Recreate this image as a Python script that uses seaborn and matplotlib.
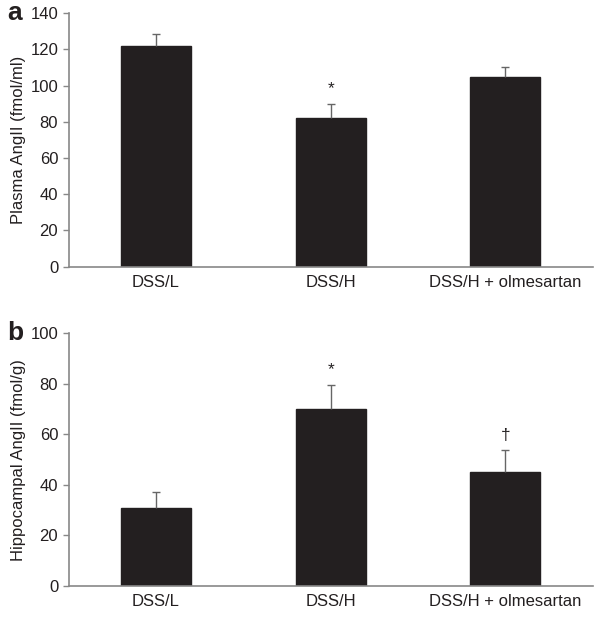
import matplotlib
matplotlib.use("Agg")
import matplotlib.pyplot as plt
import seaborn as sns
import pandas as pd

groups = ["DSS/L", "DSS/H", "DSS/H + olmesartan"]

plasma_mean = [122, 82, 105]
plasma_err = [6.5, 8, 5.5]
plasma_marks = ["", "*", ""]

hippo_mean = [31, 70, 45]
hippo_err = [6, 9.6, 8.7]
hippo_marks = ["", "*", "\u2020"]

sns.set_style("white")
plt.rcParams["font.family"] = ["Liberation Sans", "DejaVu Sans"]

fig = plt.figure(figsize=(6.02, 6.18), dpi=100)
ax_a = fig.add_axes([0.114, 0.5685, 0.8705, 0.41])
ax_b = fig.add_axes([0.114, 0.0518, 0.8705, 0.409])

panels = [
    (ax_a, plasma_mean, plasma_err, plasma_marks, "Plasma AngII (fmol/ml)", 140, 20, "a"),
    (ax_b, hippo_mean, hippo_err, hippo_marks, "Hippocampal AngII (fmol/g)", 100, 20, "b"),
]

for ax, means, errs, marks, ylabel, ymax, step, letter in panels:
    df = pd.DataFrame({"group": groups, "value": means})
    sns.barplot(data=df, x="group", y="value", color="#231f20", width=0.4,
                errorbar=None, ax=ax, saturation=1, edgecolor="#231f20")
    pos = list(range(len(groups)))
    eb = ax.errorbar(pos, means, yerr=[[0] * len(errs), errs], fmt="none",
                     ecolor="#666666", elinewidth=1, capsize=3, capthick=1)
    # only the upper cap
    eb[1][0].set_visible(False)
    for p, m, e, s in zip(pos, means, errs, marks):
        if s:
            off = ymax * 0.03
            ax.text(p, m + e + off, s, ha="center", va="bottom", fontsize=12.5,
                    color="#231f20")
    ax.set_xlim(-0.5, 2.5)
    ax.set_ylim(0, ymax)
    ax.set_yticks(range(0, ymax + 1, step))
    ax.set_xlabel("")
    ax.set_ylabel(ylabel, fontsize=12, color="#231f20", labelpad=3)
    ax.tick_params(axis="y", length=4, width=1, color="#888888", labelsize=12,
                   labelcolor="#231f20", left=True, direction="out")
    ax.tick_params(axis="x", length=0, labelsize=12, labelcolor="#231f20", pad=6)
    for side in ["top", "right"]:
        ax.spines[side].set_visible(False)
    for side in ["left", "bottom"]:
        ax.spines[side].set_color("#888888")
        ax.spines[side].set_linewidth(1.2)
    ax.text(-0.118, 1.0, letter, transform=ax.transAxes, fontsize=19,
            fontweight="bold", ha="left", va="center", color="#231f20")

fig.savefig("out.png", dpi=100)
